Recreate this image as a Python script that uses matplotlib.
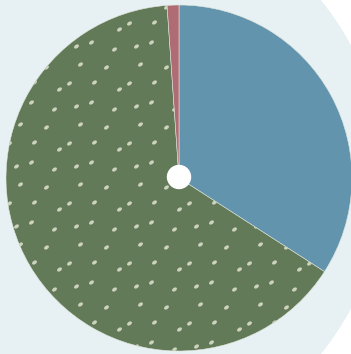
import numpy as np
import matplotlib
matplotlib.use("Agg")
import matplotlib.pyplot as plt
from matplotlib.patches import Circle
from matplotlib.path import Path
from matplotlib.transforms import Affine2D

# slice shares (percent), clockwise from 12 o'clock
labels = ["Blue", "Green", "Red"]
values = [34.1, 64.8, 1.1]
colors = ["#6394ae", "#637a58", "#b06c74"]

W, H = 351, 354
fig = plt.figure(figsize=(W / 100, H / 100), dpi=100, facecolor="white")
ax = fig.add_axes([0, 0, 1, 1])

# light backdrop disc, cut off on the right
ax.add_patch(Circle((103, 177), 280, color="#e7f0f2", zorder=0))

cx, cy, r = 179, 176, 173
wedges, _ = ax.pie(values, colors=colors, startangle=90, counterclock=False,
                   radius=r, center=(cx, cy), frame=True,
                   wedgeprops=dict(linewidth=0.4, edgecolor="#dfe6dc"))
for w in wedges:
    w.set_zorder(2)

# speckle texture on the big slice: a repeating 60px tile of scattered dots
tile = 60
tile_pts = [(10, 5), (25, 9), (48, 2), (3, 28), (28, 29), (53, 22), (14, 47), (40, 44)]
gx, gy = [], []
for ty in np.arange(cy - r - tile, cy + r, tile):
    for tx in np.arange(cx - r - tile, cx + r, tile):
        for px, py in tile_pts:
            gx.append(tx + px)
            gy.append(ty + py)
dot = Path.unit_circle().transformed(Affine2D().scale(1, 0.65).rotate_deg(35))
sc = ax.scatter(gx, gy, s=13, marker=dot, color="#cdd3bd", linewidths=0, zorder=3)
sc.set_clip_path(wedges[1])

ax.add_patch(Circle((cx, cy + 1), 11.5, color="white", zorder=4))

ax.set_xlim(0, W)
ax.set_ylim(0, H)
ax.set_aspect("equal")
ax.axis("off")
fig.savefig("out.png", dpi=100, facecolor="white")
